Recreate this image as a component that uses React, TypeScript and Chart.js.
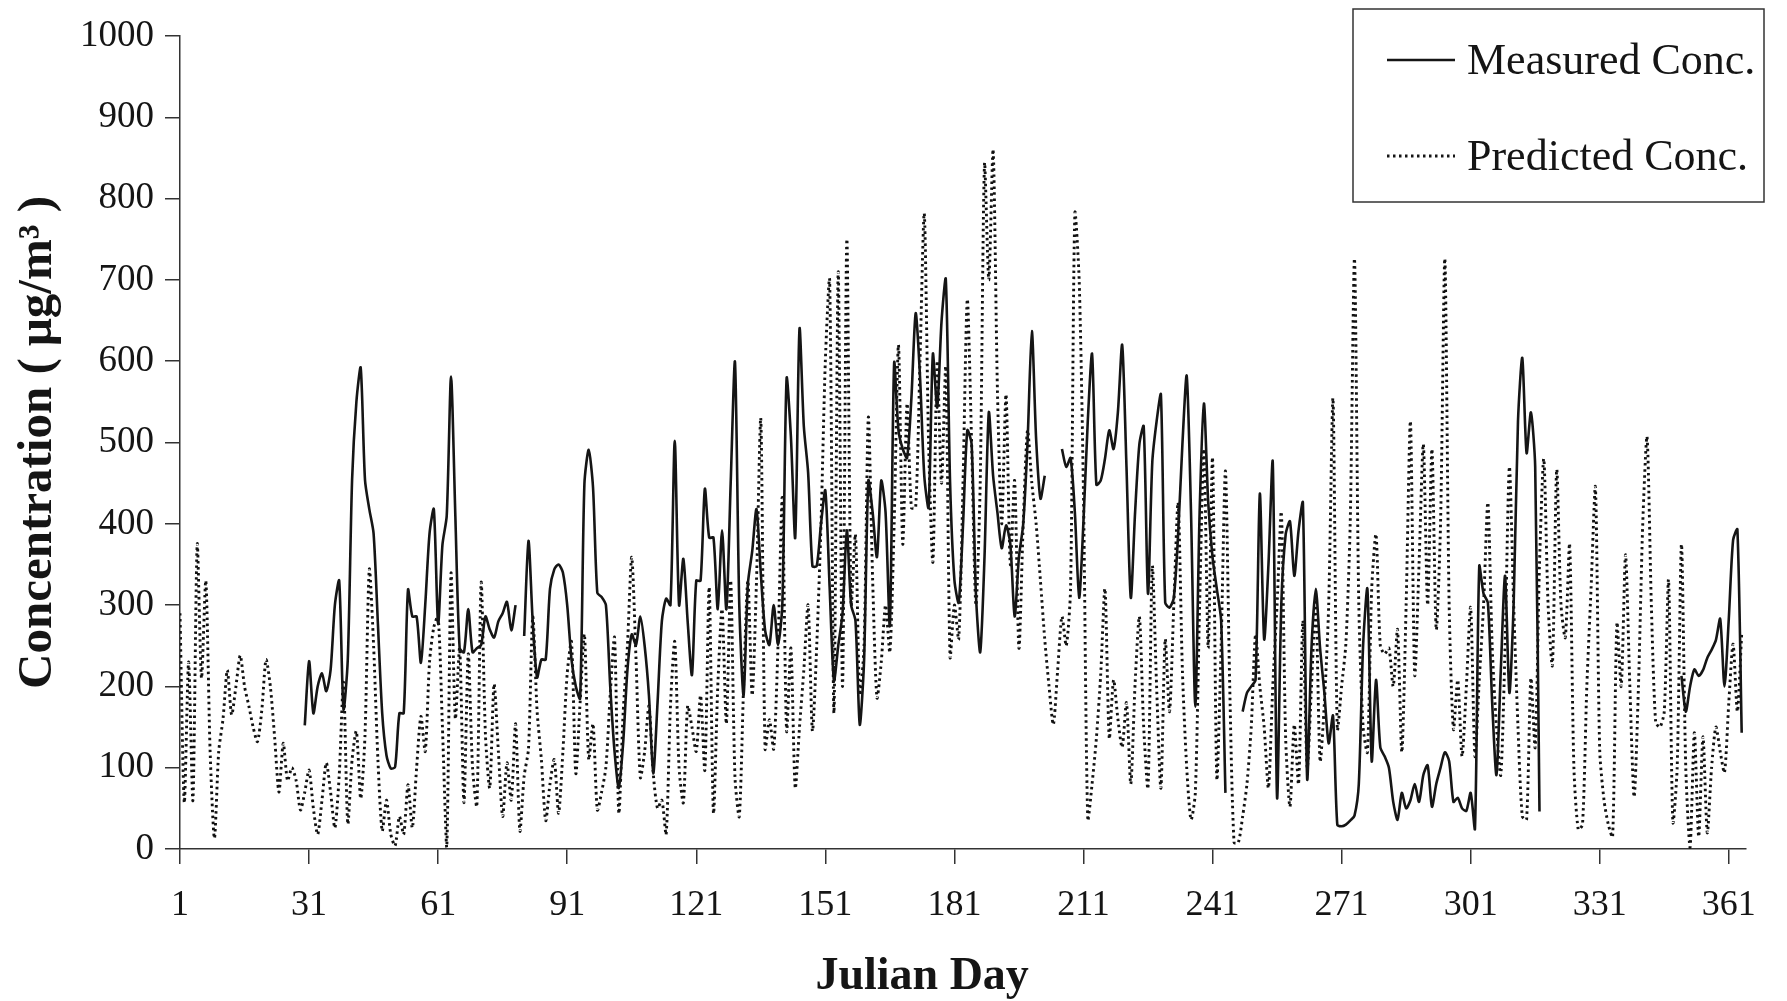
import React, { useEffect, useRef } from 'react';
import { Chart, registerables } from 'chart.js';

Chart.register(...registerables);

// Julian days (categories)
const julianDays: number[] = Array.from({ length: 365 }, (_, i) => i + 1);

// Tick labels
const xTickDays = [1, 31, 61, 91, 121, 151, 181, 211, 241, 271, 301, 331, 361];
const yTickValues = [0, 100, 200, 300, 400, 500, 600, 700, 800, 900, 1000];

const seriesLabels = ['Measured Conc.', 'Predicted Conc.'];
const xAxisTitle = 'Julian Day';
const yAxisTitle = 'Concentration ( \u03BCg/m\u00B3 )';

// Measured concentration (µg/m3), one value per Julian day; null = no measurement
const measuredConc: (number | null)[] = [
  null, null, null, null, null, null, null, null, null, null,
  null, null, null, null, null, null, null, null, null, null,
  null, null, null, null, null, null, null, null, null, 152,
  231, 167, 200, 216, 194, 220, 300, 330, 172, 233,
  454, 550, 592, 454, 418, 388, 277, 167, 115, 99,
  101, 167, 167, 319, 286, 286, 229, 300, 388, 418,
  277, 374, 410, 581, 410, 247, 242, 295, 242, 247,
  251, 286, 270, 260, 280, 290, 304, 269, 300, null,
  262, 379, 278, 211, 233, 233, 320, 344, 350, 340,
  300, 233, 200, 185, 449, 491, 445, 315, 310, 300,
  200, 120, 75, 130, 220, 264, 251, 286, 250, 189,
  93, 180, 280, 308, 300, 502, 300, 357, 280, 214,
  330, 330, 443, 383, 383, 295, 392, 295, 450, 599,
  300, 189, 326, 366, 418, 339, 269, 251, 300, 251,
  300, 579, 507, 383, 640, 520, 463, 348, 348, 400,
  441, 322, 207, 250, 290, 392, 300, 281, 153, 231,
  453, 414, 359, 453, 414, 275, 598, 515, 492, 481,
  554, 659, 582, 459, 420, 609, 543, 648, 701, 450,
  331, 303, 398, 515, 498, 314, 242, 359, 537, 459,
  414, 370, 398, 375, 286, 359, 400, 500, 637, 504,
  431, 459, null, null, null, 492, 470, 481, 414, 309,
  403, 526, 609, 448, 453, 480, 515, 492, 537, 620,
  470, 309, 414, 498, 520, 314, 476, 526, 559, 303,
  297, 309, 387, 498, 582, 414, 175, 414, 548, 426,
  359, 320, 281, 69, null, null, null, 169, 192, 200,
  208, 437, 258, 350, 476, 63, 303, 387, 403, 336,
  392, 426, 86, 247, 320, 247, 192, 130, 164, 30,
  28, 30, 35, 41, 80, 250, 320, 108, 208, 125,
  114, 100, 58, 36, 69, 50, 60, 80, 58, 91,
  103, 52, 80, 100, 119, 108, 58, 63, 50, 47,
  69, 25, 348, 314, 303, 180, 91, 219, 336, 192,
  303, 526, 604, 487, 537, 470, 46, null, null, null,
  null, null, null, null, null, null, null, null, null, null,
  null, null, null, null, null, null, null, null, null, null,
  null, null, null, null, null, null, null, null, null, 213,
  169, 200, 221, 213, 220, 235, 245, 257, 283, 200,
  283, 380, 393, 143, null,
];

// Predicted concentration (µg/m3), one value per Julian day
const predictedConc: (number | null)[] = [
  290, 57, 230, 60, 375, 210, 330, 120, 13, 120,
  160, 220, 165, 200, 238, 200, 176, 150, 132, 170,
  233, 200, 137, 70, 130, 84, 100, 84, 48, 70,
  97, 50, 18, 60, 106, 70, 26, 90, 205, 31,
  110, 145, 62, 140, 344, 250, 110, 22, 60, 18,
  4, 40, 18, 79, 26, 100, 163, 120, 230, 273,
  286, 150, 2, 339, 160, 247, 57, 240, 100, 53,
  328, 140, 75, 203, 120, 40, 106, 60, 154, 22,
  90, 123, 286, 170, 110, 35, 80, 110, 44, 120,
  216, 255, 93, 180, 264, 110, 154, 48, 70, 101,
  190, 260, 44, 167, 250, 359, 233, 88, 120, 176,
  93, 50, 60, 18, 176, 255, 100, 57, 176, 150,
  120, 189, 97, 322, 44, 200, 295, 154, 330, 88,
  40, 200, 330, 189, 330, 529, 123, 159, 123, 250,
  432, 145, 247, 75, 150, 220, 300, 145, 250, 400,
  600, 700, 167, 710, 200, 750, 300, 387, 190, 250,
  531, 331, 186, 230, 300, 242, 400, 620, 375, 548,
  420, 420, 600, 782, 500, 353, 600, 450, 593, 236,
  300, 258, 450, 676, 500, 300, 450, 843, 700, 860,
  565, 400, 559, 350, 453, 247, 400, 515, 450, 400,
  330, 258, 200, 153, 220, 286, 250, 320, 782, 700,
  437, 36, 80, 136, 214, 320, 136, 208, 160, 125,
  180, 80, 203, 286, 150, 75, 348, 200, 75, 258,
  169, 300, 426, 219, 100, 36, 69, 300, 492, 247,
  481, 86, 250, 465, 200, 8, 8, 40, 80, 150,
  264, 200, 150, 75, 200, 300, 414, 136, 52, 153,
  80, 281, 100, 200, 303, 108, 180, 300, 554, 147,
  200, 253, 400, 726, 300, 150, 119, 320, 387, 250,
  240, 247, 200, 270, 119, 300, 526, 214, 350, 498,
  300, 492, 270, 400, 726, 300, 147, 208, 114, 200,
  297, 114, 208, 300, 426, 250, 150, 91, 250, 470,
  300, 150, 40, 36, 210, 125, 350, 480, 300, 226,
  467, 300, 260, 375, 100, 24, 30, 200, 322, 445,
  121, 60, 30, 15, 278, 200, 362, 200, 64, 200,
  400, 507, 300, 156, 150, 169, 331, 33, 100, 375,
  100, 2, 143, 15, 138, 20, 100, 150, 120, 94,
  180, 252, 169, 265, null,
];

const SERIF = '"Liberation Serif", "Times New Roman", serif';
const INK = '#151515';
const AXIS = '#333333';

const boxLegend = {
  id: 'boxLegend',
  afterDraw(chart: any) {
    const ctx: CanvasRenderingContext2D = chart.ctx;
    ctx.save();
    ctx.strokeStyle = AXIS;
    ctx.lineWidth = 1.5;
    ctx.setLineDash([]);
    ctx.strokeRect(1353, 9, 411, 193);

    ctx.font = `44px ${SERIF}`;
    ctx.fillStyle = INK;
    ctx.textBaseline = 'middle';
    ctx.textAlign = 'left';

    // solid sample
    ctx.strokeStyle = INK;
    ctx.lineWidth = 2.4;
    ctx.beginPath();
    ctx.moveTo(1387, 60);
    ctx.lineTo(1455, 60);
    ctx.stroke();
    ctx.fillText(seriesLabels[0], 1467, 62);

    // dotted sample
    ctx.lineWidth = 2.8;
    ctx.setLineDash([2.5, 3.5]);
    ctx.beginPath();
    ctx.moveTo(1387, 156);
    ctx.lineTo(1455, 156);
    ctx.stroke();
    ctx.setLineDash([]);
    ctx.fillText(seriesLabels[1], 1467, 158);

    // x-axis title, centred slightly left of the axis middle as in the source figure
    const xs = chart.scales.x;
    ctx.font = `bold 46px ${SERIF}`;
    ctx.textAlign = 'center';
    ctx.textBaseline = 'middle';
    ctx.fillText(xAxisTitle, xs.getPixelForValue(173.5), 977);
    ctx.restore();
  },
};

export default function App() {
  const ref = useRef<HTMLCanvasElement>(null);

  useEffect(() => {
    document.body.style.margin = '0';
    const canvas = ref.current;
    if (!canvas) return;

    const chart = new Chart(canvas, {
      type: 'line',
      data: {
        datasets: [
          {
            label: seriesLabels[0],
            data: julianDays.map((d, i) => ({ x: d, y: measuredConc[i] })),
            borderColor: INK,
            borderWidth: 2.6,
            pointRadius: 0,
            tension: 0.25,
            fill: false,
            spanGaps: false,
          },
          {
            label: seriesLabels[1],
            data: julianDays.map((d, i) => ({ x: d, y: predictedConc[i] })),
            borderColor: '#111111',
            borderWidth: 2.9,
            borderDash: [2.5, 3.5],
            pointRadius: 0,
            tension: 0.25,
            fill: false,
            spanGaps: false,
          },
        ],
      },
      options: {
        responsive: false,
        animation: false,
        layout: { padding: { top: 36, right: 41, bottom: 0, left: 0 } },
        plugins: {
          legend: { display: false },
          tooltip: { enabled: false },
        },
        scales: {
          x: {
            type: 'linear',
            min: 1,
            max: 365,
            afterBuildTicks: (scale: any) => {
              scale.ticks = xTickDays.map((v) => ({ value: v }));
            },
            afterFit: (scale: any) => {
              scale.height = 152;
            },
            ticks: {
              autoSkip: false,
              maxRotation: 0,
              padding: 20,
              color: INK,
              font: { family: SERIF, size: 36 },
              callback: (v: any) => String(v),
            },
            grid: {
              display: true,
              drawOnChartArea: false,
              drawTicks: true,
              tickLength: 15,
              color: AXIS,
              lineWidth: 1.5,
            },
            border: { display: true, color: AXIS, width: 1.5 },
            title: { display: false, text: xAxisTitle },
          },
          y: {
            type: 'linear',
            min: 0,
            max: 1000,
            afterBuildTicks: (scale: any) => {
              scale.ticks = yTickValues.map((v) => ({ value: v }));
            },
            afterFit: (scale: any) => {
              scale.width = 180;
            },
            ticks: {
              padding: 11,
              color: INK,
              font: { family: SERIF, size: 37 },
              callback: (v: any) => String(v),
            },
            grid: {
              display: true,
              drawOnChartArea: false,
              drawTicks: true,
              tickLength: 15,
              color: AXIS,
              lineWidth: 1.5,
            },
            border: { display: true, color: AXIS, width: 1.5 },
            title: {
              display: true,
              text: yAxisTitle,
              color: INK,
              font: { family: SERIF, size: 49, weight: 'bold', lineHeight: 1 },
              padding: { top: 14, bottom: 0 },
            },
          },
        },
      } as any,
      plugins: [boxLegend],
    });

    return () => chart.destroy();
  }, []);

  return <canvas ref={ref} width={1787} height={1001} style={{ display: 'block' }} />;
}
